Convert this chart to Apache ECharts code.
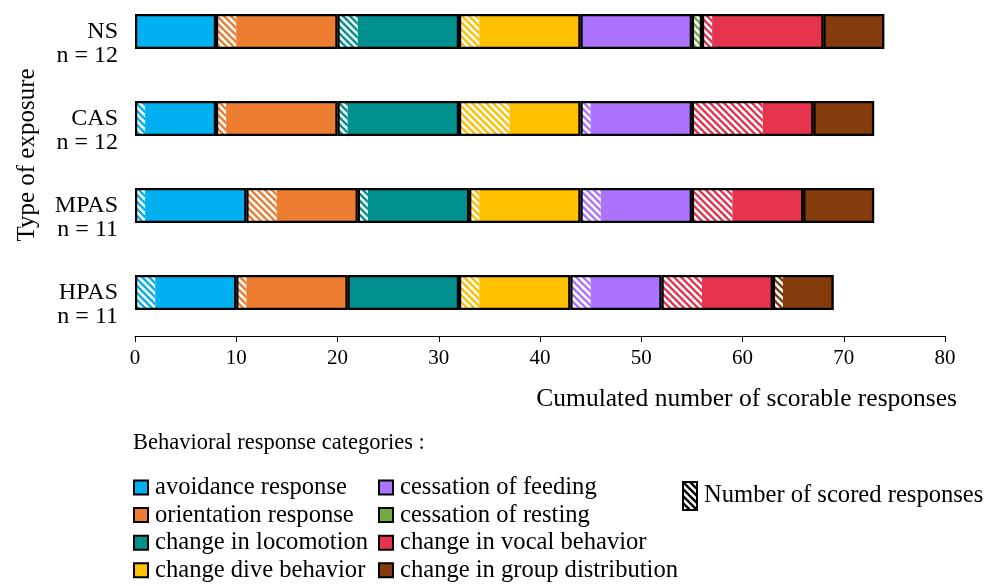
<!DOCTYPE html>
<html>
<head>
<meta charset="utf-8">
<script src="https://cdn.jsdelivr.net/npm/echarts@6/dist/echarts.min.js"></script>
<style>
  html, body { margin: 0; padding: 0; background: #fff; overflow: hidden; }
  /* chart box starts 12px above the page so the first band can reach past the top */
  #chart { position: relative; top: -12px; width: 992px; height: 598px; }
</style>
</head>
<body>
<div id="chart"></div>
<script>
// groups from top to bottom
const groups = ['NS', 'CAS', 'MPAS', 'HPAS']
const groupN = [12, 12, 11, 11]

const categories = [
  'avoidance response',
  'orientation response',
  'change in locomotion',
  'change dive behavior',
  'cessation of feeding',
  'cessation of resting',
  'change in vocal behavior',
  'change in group distribution'
]
const colors = ['#00B0F0', '#ED7D31', '#00918F', '#FFC000', '#AC73FF', '#70AD47', '#E6344E', '#843C0C']

// scored (hatched) / other (solid) counts, order NS, CAS, MPAS, HPAS
const avoidanceScored = [0, 1, 1, 2]
const avoidanceOther = [8, 7, 10, 8]
const orientationScored = [2, 1, 3, 1]
const orientationOther = [10, 11, 8, 10]
const locomotionScored = [2, 1, 1, 0]
const locomotionOther = [10, 11, 10, 11]
const diveScored = [2, 5, 1, 2]
const diveOther = [10, 7, 10, 9]
const feedingScored = [0, 1, 2, 2]
const feedingOther = [11, 10, 9, 7]
const restingScored = [1, 0, 0, 0]
const restingOther = [0, 0, 0, 0]
const vocalScored = [1, 7, 4, 4]
const vocalOther = [11, 5, 7, 7]
const groupScored = [0, 0, 0, 1]
const groupOther = [6, 6, 7, 5]

const xTicks = [0, 10, 20, 30, 40, 50, 60, 70, 80]

const scoredLists = [avoidanceScored, orientationScored, locomotionScored, diveScored, feedingScored, restingScored, vocalScored, groupScored]
const otherLists = [avoidanceOther, orientationOther, locomotionOther, diveOther, feedingOther, restingOther, vocalOther, groupOther]

const FONT = 'Liberation Serif'

// white tile with diagonal stripes in the category colour
function hatch(color) {
  const s = 7
  const c = document.createElement('canvas')
  c.width = s
  c.height = s
  const ctx = c.getContext('2d')
  ctx.fillStyle = '#fff'
  ctx.fillRect(0, 0, s, s)
  ctx.strokeStyle = color
  ctx.lineWidth = 2.4
  for (let k = -1; k <= 1; k++) {
    ctx.beginPath()
    ctx.moveTo(k * s - 1, -1)
    ctx.lineTo(k * s + s + 1, s + 1)
    ctx.stroke()
  }
  return { image: c, repeat: 'repeat' }
}

const BAR_W = 35
const series = []
categories.forEach((name, i) => {
  series.push({
    name: name + ' (scored)',
    type: 'bar',
    stack: 'fill',
    barWidth: BAR_W,
    barGap: '-100%',
    silent: true,
    data: scoredLists[i],
    itemStyle: { color: hatch(colors[i]) }
  })
  series.push({
    name: name,
    type: 'bar',
    stack: 'fill',
    barWidth: BAR_W,
    barGap: '-100%',
    silent: true,
    data: otherLists[i],
    itemStyle: { color: colors[i] }
  })
})
// black outline around each category block
categories.forEach((name, i) => {
  series.push({
    name: name + ' outline',
    type: 'bar',
    stack: 'outline',
    barWidth: BAR_W,
    barGap: '-100%',
    silent: true,
    data: scoredLists[i].map((v, j) => (v + otherLists[i][j]) || null),
    itemStyle: { color: 'rgba(0,0,0,0)', borderColor: '#000', borderWidth: 2.2 }
  })
})
// only for the legend entry
series.push({
  name: 'Number of scored responses',
  type: 'bar',
  stack: 'outline',
  barWidth: BAR_W,
  barGap: '-100%',
  data: [],
  itemStyle: { color: hatch('#000') }
})

const legendText = { fontFamily: FONT, fontSize: 24.6, color: '#000', padding: [0, 0, 0, 2] }

const option = {
  animation: false,
  textStyle: { fontFamily: FONT, color: '#000' },
  title: [
    {
      text: 'Cumulated number of scorable responses',
      right: 35,
      top: 398,
      padding: 0,
      textStyle: { fontFamily: FONT, fontSize: 25.5, fontWeight: 'normal', color: '#000' }
    },
    {
      text: 'Behavioral response categories :',
      left: 133,
      top: 444,
      padding: 0,
      textStyle: { fontFamily: FONT, fontSize: 22.5, fontWeight: 'normal', color: '#000' }
    }
  ],
  // y axis title, rotated
  graphic: [
    {
      type: 'text',
      x: 27,
      y: 167,
      rotation: Math.PI / 2,
      silent: true,
      style: {
        text: 'Type of exposure',
        font: '25px "Liberation Serif"',
        fill: '#000',
        align: 'center',
        verticalAlign: 'middle'
      }
    }
  ],
  grid: { left: 135, right: 47, top: 0, bottom: 250, containLabel: false },
  legend: [
    {
      data: categories.slice(0, 4),
      orient: 'vertical',
      left: 133,
      top: 487,
      padding: 0,
      itemGap: 2.6,
      itemWidth: 14,
      itemHeight: 14,
      icon: 'rect',
      selectedMode: false,
      itemStyle: { borderColor: '#000', borderWidth: 2 },
      textStyle: legendText
    },
    {
      data: categories.slice(4),
      orient: 'vertical',
      left: 378,
      top: 487,
      padding: 0,
      itemGap: 2.6,
      itemWidth: 14,
      itemHeight: 14,
      icon: 'rect',
      selectedMode: false,
      itemStyle: { borderColor: '#000', borderWidth: 2 },
      textStyle: legendText
    },
    {
      data: ['Number of scored responses'],
      left: 682,
      top: 493,
      padding: 0,
      itemWidth: 14,
      itemHeight: 28,
      icon: 'rect',
      selectedMode: false,
      itemStyle: { borderColor: '#000', borderWidth: 2 },
      textStyle: legendText
    }
  ],
  xAxis: {
    type: 'value',
    min: 0,
    max: 80,
    interval: 10,
    splitLine: { show: false },
    axisLine: { show: true, lineStyle: { color: '#000', width: 1 } },
    axisTick: { show: true, length: 6, lineStyle: { color: '#000' } },
    axisLabel: {
      margin: 12,
      fontFamily: FONT,
      fontSize: 21,
      color: '#000',
      formatter: (v) => (xTicks.includes(v) ? String(v) : '')
    }
  },
  yAxis: {
    type: 'category',
    data: groups,
    inverse: true,
    axisLine: { show: false },
    axisTick: { show: false },
    axisLabel: {
      margin: 17,
      fontFamily: FONT,
      fontSize: 24,
      lineHeight: 24,
      color: '#000',
      align: 'right',
      // leading empty line keeps the group name level with its bar
      formatter: (v, idx) => '\n' + v + '\nn = ' + groupN[idx]
    }
  },
  series: series
}

const chart = echarts.init(document.getElementById('chart'))
chart.setOption(option)
</script>
</body>
</html>
